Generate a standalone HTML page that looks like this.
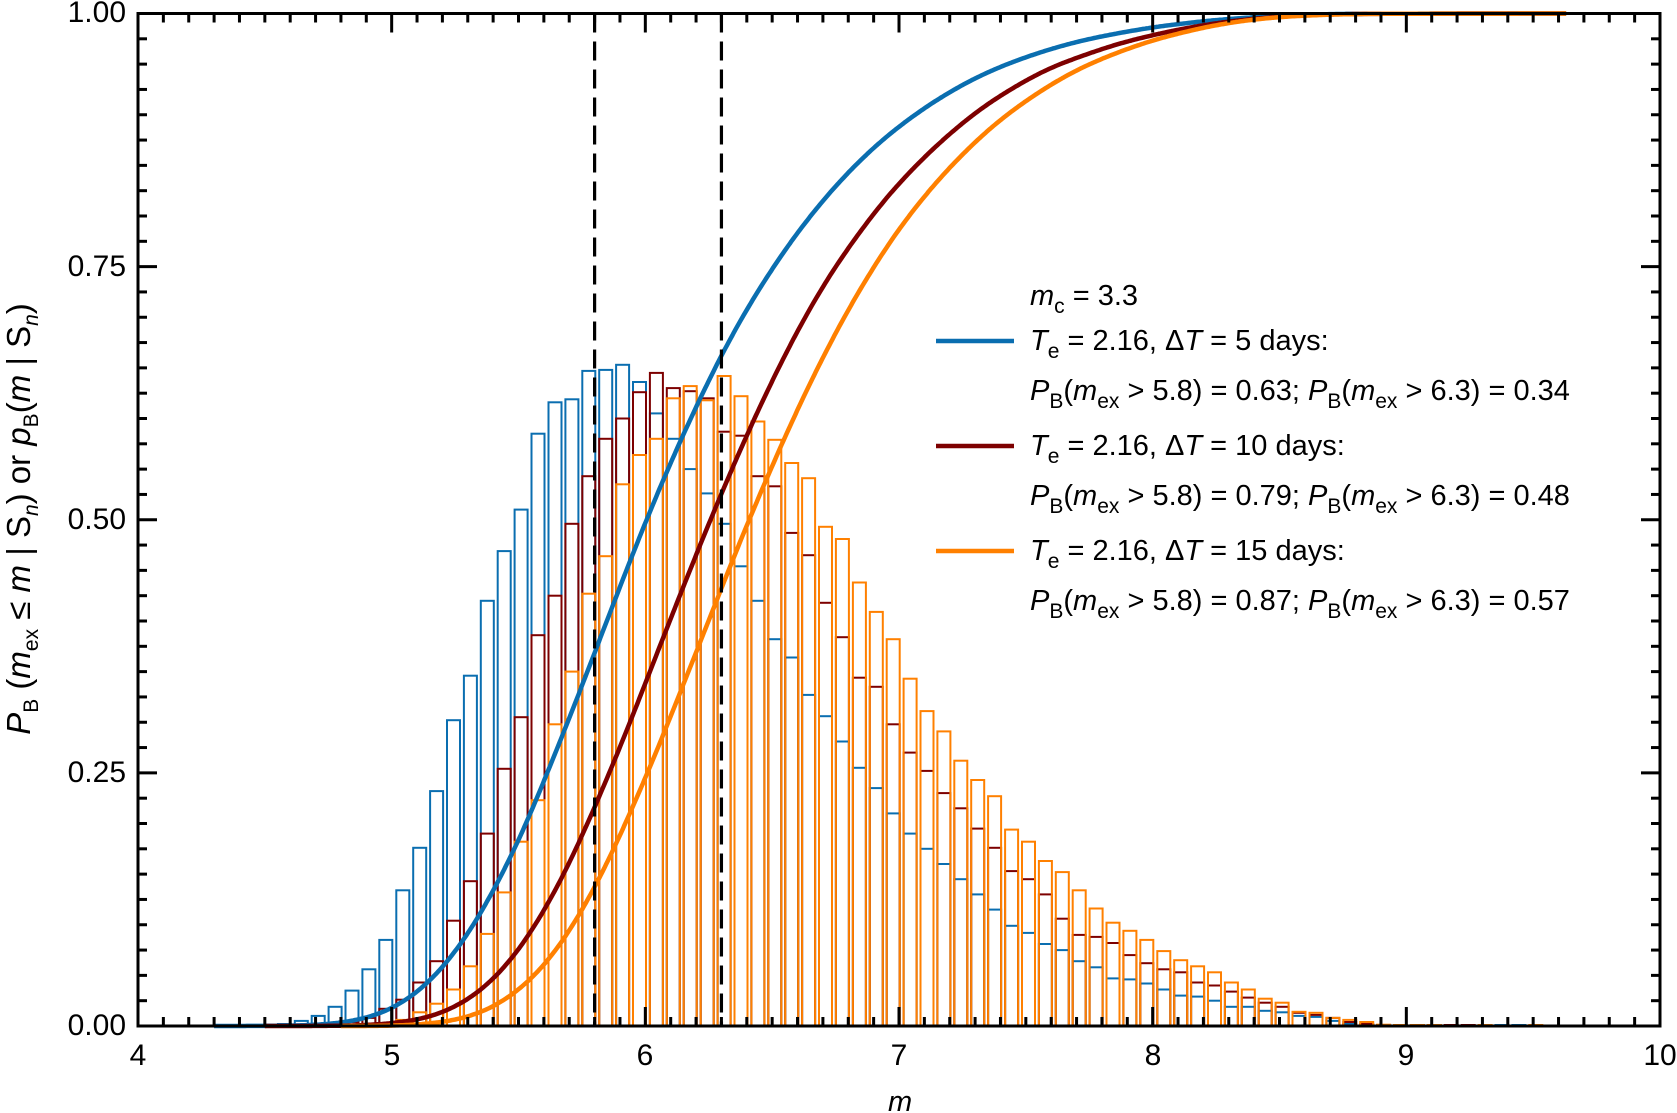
<!DOCTYPE html>
<html><head><meta charset="utf-8">
<style>
html,body{margin:0;padding:0;background:#fff;}
#wrap{position:relative;width:1677px;height:1113px;overflow:hidden;font-family:"Liberation Sans",Arial,sans-serif;color:#000;}
svg{position:absolute;left:0;top:0;}
.t{position:absolute;font-size:29px;line-height:30px;white-space:nowrap;}
.t sub{font-size:21px;vertical-align:-8px;line-height:0;}
.yl{text-align:right;width:100px;font-size:30px;line-height:34px;}
.xl{text-align:center;width:60px;font-size:30px;line-height:34px;}
</style></head><body>
<div id="wrap">
<svg id="s" width="1677" height="1113" xmlns="http://www.w3.org/2000/svg"></svg>

<div class="t yl" style="left:26px;top:-4px;">1.00</div>
<div class="t yl" style="left:26px;top:250px;">0.75</div>
<div class="t yl" style="left:26px;top:503px;">0.50</div>
<div class="t yl" style="left:26px;top:756px;">0.25</div>
<div class="t yl" style="left:26px;top:1009px;">0.00</div>

<div class="t xl" style="left:108px;top:1039px;">4</div>
<div class="t xl" style="left:362px;top:1039px;">5</div>
<div class="t xl" style="left:615px;top:1039px;">6</div>
<div class="t xl" style="left:869px;top:1039px;">7</div>
<div class="t xl" style="left:1123px;top:1039px;">8</div>
<div class="t xl" style="left:1376px;top:1039px;">9</div>
<div class="t xl" style="left:1630px;top:1039px;">10</div>

<div class="t" style="left:888px;top:1087px;"><i>m</i></div>

<div class="t" style="left:19px;top:519px;font-size:33px;line-height:34px;transform:translate(-50%,-50%) rotate(-90deg);"><i>P</i><sub>B</sub> (<i>m</i><sub>ex</sub> ≤ <i>m</i> | S<sub><i>n</i></sub>) or <i>p</i><sub>B</sub>(<i>m</i> | S<sub><i>n</i></sub>)</div>

<div class="t" style="left:1030px;top:281px;"><i>m</i><sub>c</sub> = 3.3</div>
<div class="t" style="left:1030px;top:326px;"><i>T</i><sub>e</sub> = 2.16, Δ<i>T</i> = 5 days:</div>
<div class="t" style="left:1030px;top:376px;"><i>P</i><sub>B</sub>(<i>m</i><sub>ex</sub> &gt; 5.8) = 0.63; <i>P</i><sub>B</sub>(<i>m</i><sub>ex</sub> &gt; 6.3) = 0.34</div>
<div class="t" style="left:1030px;top:431px;"><i>T</i><sub>e</sub> = 2.16, Δ<i>T</i> = 10 days:</div>
<div class="t" style="left:1030px;top:481px;"><i>P</i><sub>B</sub>(<i>m</i><sub>ex</sub> &gt; 5.8) = 0.79; <i>P</i><sub>B</sub>(<i>m</i><sub>ex</sub> &gt; 6.3) = 0.48</div>
<div class="t" style="left:1030px;top:536px;"><i>T</i><sub>e</sub> = 2.16, Δ<i>T</i> = 15 days:</div>
<div class="t" style="left:1030px;top:586px;"><i>P</i><sub>B</sub>(<i>m</i><sub>ex</sub> &gt; 5.8) = 0.87; <i>P</i><sub>B</sub>(<i>m</i><sub>ex</sub> &gt; 6.3) = 0.57</div>
</div>
<script>
(function(){
var X0=138,X1=1660,Y0=1026,Y1=13.5;
function X(m){return X0+(m-4)*(X1-X0)/6;}
function Y(v){return Y0-v*(Y0-Y1);}
var s=document.getElementById('s');var h='';
var BL='#0a6eb0',RD='#7d0000',OR='#ff8000';
var blue={6:.001,7:.001,8:.002,9:.005,10:.01,11:.019,12:.035,13:.056,14:.085,15:.134,16:.176,17:.232,18:.302,19:.346,20:.42,21:.469,22:.51,23:.585,24:.616,25:.619,26:.647,27:.648,28:.653,29:.636,30:.605,31:.58,32:.55,33:.526,34:.496,35:.454,36:.42,37:.382,38:.364,39:.327,40:.306,41:.281,42:.255,43:.235,44:.21,45:.19,46:.175,47:.16,48:.145,49:.13,50:.115,51:.099,52:.092,53:.081,54:.075,55:.064,56:.058,57:.047,58:.046,59:.042,60:.036,61:.030,62:.029,63:.025,64:.019,65:.019,66:.015,67:.0135,68:.010,69:.009,70:.005,71:.002,72:.001,73:.001,74:.001,75:.001,80:.001,81:.001};
var red={10:.001,11:.002,12:.004,13:.008,14:.017,15:.026,16:.043,17:.064,18:.104,19:.143,20:.19,21:.254,22:.305,23:.386,24:.425,25:.496,26:.543,27:.58,28:.6,29:.626,30:.645,31:.63,32:.627,33:.62,34:.587,35:.583,36:.543,37:.533,38:.487,39:.465,40:.418,41:.384,42:.344,43:.335,44:.298,45:.27,46:.252,47:.23,48:.215,49:.195,50:.176,51:.153,52:.145,53:.130,54:.106,55:.09,56:.088,57:.082,58:.070,59:.062,60:.056,61:.053,62:.043,63:.040,64:.034,65:.028,66:.023,67:.019,68:.013,69:.011,70:.008,71:.004,72:.002,73:.001,74:.001,75:.001,76:.001,77:.001,78:.001};
var ora={14:.003,15:.006,16:.0135,17:.022,18:.036,19:.059,20:.091,21:.132,22:.182,23:.223,24:.298,25:.35,26:.427,27:.464,28:.535,29:.564,30:.58,31:.62,32:.632,33:.618,34:.642,35:.622,36:.597,37:.579,38:.556,39:.541,40:.493,41:.481,42:.438,43:.409,44:.382,45:.343,46:.311,47:.291,48:.262,49:.243,50:.227,51:.194,52:.182,53:.163,54:.152,55:.134,56:.116,57:.102,58:.094,59:.085,60:.074,61:.065,62:.059,63:.053,64:.043,65:.036,66:.027,67:.023,68:.014,69:.013,70:.008,71:.006,72:.004,73:.0013,74:.001,75:.001,76:.001,79:.001,82:.001};
function bars(d,c){for(var k in d){var L=X(4.011+k/15),v=d[k],y=Y(v);h+='<rect x="'+(L+1.8).toFixed(1)+'" y="'+y.toFixed(1)+'" width="13" height="'+Math.max(0.5,Y0-y).toFixed(1)+'" fill="none" stroke="'+c+'" stroke-width="2"/>';}}
bars(blue,BL);bars(red,RD);bars(ora,OR);
function mono(p){var n=p.length,dx=[],sl=[],m=[];for(var i=0;i<n-1;i++){dx[i]=p[i+1][0]-p[i][0];sl[i]=(p[i+1][1]-p[i][1])/dx[i];}
m[0]=sl[0];m[n-1]=sl[n-2];for(i=1;i<n-1;i++){if(sl[i-1]*sl[i]<=0)m[i]=0;else m[i]=(sl[i-1]+sl[i])/2;}
for(i=0;i<n-1;i++){if(sl[i]==0){m[i]=0;m[i+1]=0;continue;}var a=m[i]/sl[i],b=m[i+1]/sl[i];var t=a*a+b*b;if(t>9){var tau=3/Math.sqrt(t);m[i]=tau*a*sl[i];m[i+1]=tau*b*sl[i];}}
var out=[];for(i=0;i<n-1;i++){for(var j=0;j<10;j++){var t=j/10,hh=dx[i];var t2=t*t,t3=t2*t;var y=(2*t3-3*t2+1)*p[i][1]+(t3-2*t2+t)*hh*m[i]+(-2*t3+3*t2)*p[i+1][1]+(t3-t2)*hh*m[i+1];out.push([p[i][0]+t*hh,y]);}}out.push(p[n-1]);return out;}
function cdf(d,start,end,shift){
  var vals=[];for(var k=0;k<=90;k++){vals[k]=d[k]||0;}
  var sm=[];for(k=0;k<=90;k++){var a=vals[k-1]||0,b=vals[k],c=vals[k+1]||0;sm[k]=0.25*a+0.5*b+0.25*c;}
  var tot=0;for(k=0;k<=90;k++)tot+=sm[k];
  var pts=[[start,0]],cum=0;
  for(k=0;k<=90;k++){cum+=sm[k];var e=4.011+(k+1)/15-shift;if(e>start&&e<end)pts.push([e,cum/tot]);}
  pts.push([end,1]);return pts;}
function curve(p,c){var q=mono(p);var d='';q.forEach(function(a,i){d+=(i?'L':'M')+X(a[0]).toFixed(1)+','+Y(Math.min(1,Math.max(0,a[1]))).toFixed(1);});h+='<path d="'+d+'" fill="none" stroke="'+c+'" stroke-width="4.5" stroke-linejoin="round"/>';}
curve(cdf(blue,4.3,9.63,0.035),BL);
curve(cdf(red,4.5,9.63,0.035),RD);
curve(cdf(ora,4.8,9.63,0.04),OR);
[5.8,6.3].forEach(function(m){h+='<line x1="'+X(m)+'" y1="'+Y1+'" x2="'+X(m)+'" y2="'+Y0+'" stroke="#000" stroke-width="3.2" stroke-dasharray="19,9"/>';});
h+='<line x1="936" y1="341" x2="1014" y2="341" stroke="'+BL+'" stroke-width="4.5"/>';
h+='<line x1="936" y1="446" x2="1014" y2="446" stroke="'+RD+'" stroke-width="4.5"/>';
h+='<line x1="936" y1="551" x2="1014" y2="551" stroke="'+OR+'" stroke-width="4.5"/>';
for(var i=0;i<=60;i++){var x=X(4+i/10),L=(i%10==0)?19:9;h+='<line x1="'+x+'" y1="'+Y0+'" x2="'+x+'" y2="'+(Y0-L)+'" stroke="#000" stroke-width="3"/><line x1="'+x+'" y1="'+Y1+'" x2="'+x+'" y2="'+(Y1+L)+'" stroke="#000" stroke-width="3"/>';}
for(i=0;i<=40;i++){var y=Y(i/40),L=(i%10==0)?19:9;h+='<line x1="'+X0+'" y1="'+y+'" x2="'+(X0+L)+'" y2="'+y+'" stroke="#000" stroke-width="3"/><line x1="'+X1+'" y1="'+y+'" x2="'+(X1-L)+'" y2="'+y+'" stroke="#000" stroke-width="3"/>';}
h+='<rect x="'+X0+'" y="'+Y1+'" width="'+(X1-X0)+'" height="'+(Y0-Y1)+'" fill="none" stroke="#000" stroke-width="3"/>';
s.innerHTML=h;
})();
</script>
</body></html>
